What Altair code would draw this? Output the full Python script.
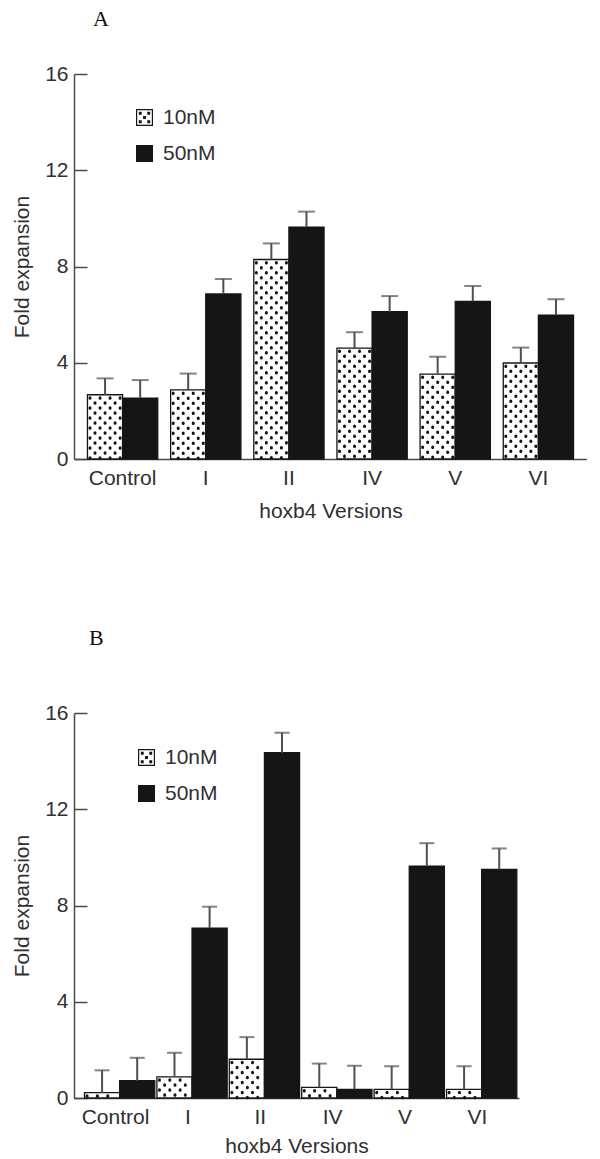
import altair as alt
import pandas as pd

# ---------------- data ----------------
categories = ["Control", "I", "II", "IV", "V", "VI"]
series = ["10nM", "50nM"]

# Panel A
a_10nM = [2.67, 2.87, 8.29, 4.61, 3.53, 3.99]
a_10nM_err = [0.68, 0.68, 0.67, 0.66, 0.72, 0.64]
a_50nM = [2.53, 6.86, 9.64, 6.12, 6.55, 5.98]
a_50nM_err = [0.75, 0.62, 0.64, 0.65, 0.64, 0.66]

# Panel B
b_10nM = [0.22, 0.88, 1.61, 0.44, 0.36, 0.36]
b_10nM_err = [0.93, 1.00, 0.92, 0.99, 0.96, 0.96]
b_50nM = [0.72, 7.06, 14.35, 0.36, 9.64, 9.50]
b_50nM_err = [0.95, 0.89, 0.83, 0.98, 0.95, 0.87]

y_ticks = [0, 4, 8, 12, 16]

# ---------------- styling ----------------
SANS = "Liberation Sans, Arial, Helvetica, sans-serif"
SERIF = "Liberation Serif, Times New Roman, serif"
INK = "#303030"
BLACK = "#151515"
AXIS = "#4a4a4a"
ERR = "#505050"


def sq(cx, cy, h):
    return f"M{cx - h:.2f},{cy - h:.2f}H{cx + h:.2f}V{cy + h:.2f}H{cx - h:.2f}Z"


# dotted swatch for the 10nM legend entry (ring + dots, unit square -1..1)
DOTTED = ("M-1,-1H1V1H-1Z M-0.86,-0.86V0.86H0.86V-0.86Z "
          + " ".join(sq(px, py, 0.17) for px, py in
                     [(-0.5, -0.5), (0.5, -0.5), (0.0, 0.0), (-0.5, 0.5), (0.5, 0.5)]))


def panel(letter, v10, e10, v50, e50, width, pad_in, pad_out, bar_px, ncols, cap,
          title_dx, title_offset, lx, ly, x_title_pad, y_title_x):
    df = pd.DataFrame({
        "category": categories * 2,
        "series": ["10nM"] * len(categories) + ["50nM"] * len(categories),
        "value": v10 + v50,
        "err": e10 + e50,
    })
    df["upper"] = df["value"] + df["err"]
    low = pd.DataFrame({"category": categories, "value": v10})

    x_enc = alt.X("category:N", sort=categories, title="hoxb4 Versions",
                  scale=alt.Scale(paddingInner=pad_in, paddingOuter=pad_out),
                  axis=alt.Axis(labelAngle=0, ticks=False, labelPadding=8,
                                titlePadding=x_title_pad))
    y_axis = alt.Axis(values=y_ticks, ticks=False, labelPadding=6,
                      titleX=y_title_x, titleBaseline="middle", titleAngle=270,
                      grid=True, gridDash=[13, 2000], gridColor=AXIS,
                      gridWidth=1.5, gridOpacity=1)
    y_scale = alt.Scale(domain=[0, 16], nice=False)
    xo = alt.XOffset("series:N", sort=series,
                     scale=alt.Scale(domain=series, paddingInner=0, paddingOuter=0))
    y_val = alt.Y("value:Q", title="Fold expansion", scale=y_scale, axis=y_axis)

    base = alt.Chart(df)
    bars_low = base.transform_filter("datum.series === '10nM'").mark_bar(
        fill="#ffffff", stroke=BLACK, strokeWidth=1.3
    ).encode(x=x_enc, xOffset=xo, y=y_val)
    bars_high = base.transform_filter("datum.series === '50nM'").mark_bar(
        fill=BLACK, stroke=BLACK, strokeWidth=1.3
    ).encode(x=x_enc, xOffset=xo, y=alt.Y("value:Q", title="Fold expansion"))

    # dotted texture of the 10nM bars: one dotted column per layer
    pitch = bar_px / ncols
    dot_layers = []
    for k in range(ncols):
        dot_layers.append(
            alt.Chart(low).mark_rule(
                color=BLACK, strokeWidth=3.0, strokeCap="round", strokeDash=[0.5, 9.5],
                strokeDashOffset=7 if k % 2 == 0 else 2,
                xOffset=-bar_px + pitch * (k + 0.5),
            ).encode(x=x_enc, y=alt.Y("value:Q", title="Fold expansion"),
                     y2=alt.Y2Datum(0))
        )

    stems = base.mark_rule(color=ERR, strokeWidth=2).encode(
        x=x_enc, xOffset=xo,
        y=alt.Y("value:Q", title="Fold expansion"), y2=alt.Y2("upper:Q"))
    caps = base.mark_tick(color=ERR, thickness=2, size=cap).encode(
        x=x_enc, xOffset=xo, y=alt.Y("upper:Q", title="Fold expansion"))

    # legend carrier: invisible points whose shape legend shows the two swatches
    legend = alt.Legend(title=None, orient="none", legendX=lx, legendY=ly,
                        direction="vertical", symbolSize=289, symbolOpacity=1,
                        symbolFillColor=BLACK, symbolStrokeColor=BLACK,
                        symbolStrokeWidth=0, labelFont=SANS, labelFontSize=21,
                        labelColor=INK, labelOffset=8, rowPadding=14, padding=0)
    keys = base.mark_point(filled=True, opacity=0, size=289, color=BLACK).encode(
        x=x_enc, xOffset=xo, y=alt.Y("value:Q", title="Fold expansion"),
        shape=alt.Shape("series:N", sort=series,
                        scale=alt.Scale(domain=series, range=[DOTTED, "square"]),
                        legend=legend),
    )

    layers = [bars_low, bars_high] + dot_layers + [stems, caps, keys]

    return alt.layer(*layers).properties(
        width=width, height=385,
        title=alt.TitleParams(letter, anchor="start", frame="group", font=SERIF,
                              fontSize=22, fontWeight="normal", color="#111111",
                              dx=title_dx, offset=title_offset, baseline="top"),
    )


pa = panel("A", a_10nM, a_10nM_err, a_50nM, a_50nM_err, 513, 0.155, 0.162, 35.1, 7, 17,
           19, 32, 60, 33, 12, -52)
pb = panel("B", b_10nM, b_10nM_err, b_50nM, b_50nM_err, 445, 0.144, 0.145, 31.0, 6, 15,
           15, 52, 62, 34, 8, -52)

chart = alt.concat(pa, pb, columns=1, spacing=106).resolve_scale(
    shape="independent"
).resolve_legend(shape="independent").properties(
    padding={"left": 3, "top": 0, "right": 0, "bottom": 0}
).configure_view(stroke=None).configure_axis(
    labelFont=SANS, labelFontSize=21, labelColor=INK,
    titleFont=SANS, titleFontSize=21, titleFontWeight="normal", titleColor=INK,
    domainColor=AXIS, domainWidth=1.5,
)

chart.save("out.html", embed_options={"renderer": "svg", "actions": False})
